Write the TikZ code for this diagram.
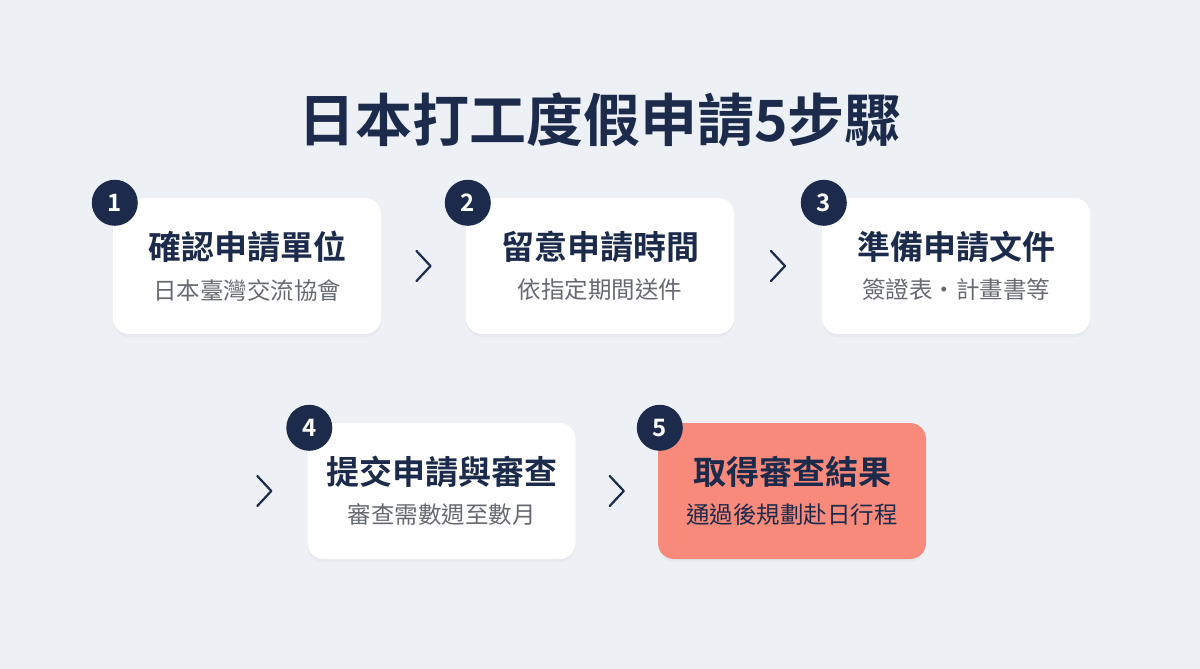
\documentclass[tikz,border=0pt]{standalone}
\usepackage{fontspec}
\newfontfamily\cjk[BoldFont={Noto Sans CJK TC Bold}]{Noto Sans CJK TC}
\usetikzlibrary{calc,shadows}
\definecolor{kumo}{HTML}{EDF0F5}
\definecolor{ainavy}{HTML}{1C2B4B}
\definecolor{sango}{HTML}{F88A7C}
\definecolor{nezumi}{HTML}{666A70}

\tikzset{
    card/.style={rounded corners=16pt, minimum width=268pt, minimum height=136pt,
        inner sep=0pt, fill=white, drop shadow={opacity=0.06, shadow xshift=0pt, shadow yshift=-3pt}},
    cardtitle/.style={font=\cjk\bfseries\fontsize{33}{38}\selectfont, text=ainavy, inner sep=0pt},
    cardsub/.style={font=\cjk\fontsize{23.5}{28}\selectfont, text=nezumi, inner sep=0pt},
    badge/.style={circle, fill=ainavy, minimum size=46pt, inner sep=0pt,
        text=white, font=\cjk\bfseries\fontsize{24}{28}\selectfont},
    chev/.style={draw=ainavy, line width=2.2pt, line cap=round, line join=round}
}

\begin{document}
\begin{tikzpicture}[x=1pt, y=-1pt]
    \fill[kumo] (0, 0) rectangle (1200, 669);
    \useasboundingbox (0, 0) rectangle (1200, 669);

    \node[font=\cjk\bfseries\fontsize{57}{63}\selectfont, text=ainavy] (title) at (600, 120) {日本打工度假申請5步驟};

    % cards
    \node[card] (c1) at (247, 266) {};
    \node[card] (c2) at (600, 266) {};
    \node[card] (c3) at (956, 266) {};
    \node[card] (c4) at (441.5, 491) {};
    \node[card, fill=sango] (c5) at (792, 491) {};

    \foreach \n / \t / \s in {1/確認申請單位/日本臺灣交流協會, 2/留意申請時間/依指定期間送件,
        3/準備申請文件/簽證表・計畫書等, 4/提交申請與審查/審查需數週至數月} {
        \node[cardtitle] (t\n) at ([yshift=19pt]c\n.center) {\t};
        \node[cardsub] (s\n) at ([yshift=-24pt]c\n.center) {\s};
        \node[badge] (b\n) at ([xshift=2pt, yshift=-5pt]c\n.north west) {\n};
    }
    \node[cardtitle] (t5) at ([yshift=19pt]c5.center) {取得審查結果};
    \node[cardsub, text=ainavy] (s5) at ([yshift=-24pt]c5.center) {通過後規劃赴日行程};
    \node[badge] (b5) at ([xshift=2pt, yshift=-5pt]c5.north west) {5};

    % chevrons
    \coordinate (a12) at ($(c1.east)!0.5!(c2.west)$);
    \coordinate (a23) at ($(c2.east)!0.5!(c3.west)$);
    \coordinate (a34) at ([xshift=-43pt]c4.west);
    \coordinate (a45) at ($(c4.east)!0.5!(c5.west)$);
    \foreach \a in {a12, a23, a34, a45}
        \draw[chev] ([shift={(-7, -15)}]\a) -- ([shift={(7, 0)}]\a) -- ([shift={(-7, 15)}]\a);

\end{tikzpicture}
\end{document}
